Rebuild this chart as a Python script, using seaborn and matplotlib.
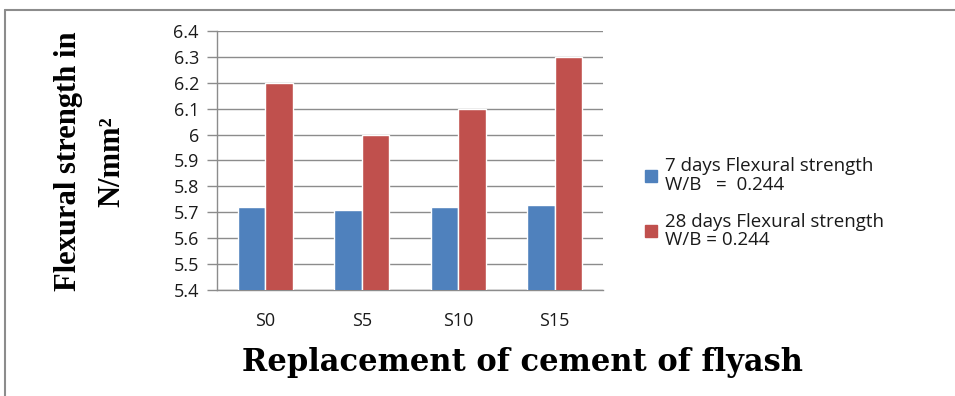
import matplotlib
matplotlib.use("Agg")
import matplotlib.pyplot as plt
from matplotlib.lines import Line2D
import seaborn as sns
import pandas as pd

# Flexural strength (N/mm^2) for each fly ash replacement level
mixes = ["S0", "S5", "S10", "S15"]
strength_7d = [5.72, 5.71, 5.72, 5.73]
strength_28d = [6.20, 6.00, 6.10, 6.30]
series_names = ["7 days Flexural strength\nW/B   =  0.244",
                "28 days Flexural strength\nW/B = 0.244"]
y_ticks = [5.4, 5.5, 5.6, 5.7, 5.8, 5.9, 6.0, 6.1, 6.2, 6.3, 6.4]

df = pd.DataFrame({
    "mix": mixes * 2,
    "strength": strength_7d + strength_28d,
    "series": [series_names[0]] * len(mixes) + [series_names[1]] * len(mixes),
})

sns.set_theme(style="white")
plt.rcParams["font.family"] = ["Open Sans", "DejaVu Sans"]

fig = plt.figure(figsize=(9.55, 3.96), dpi=100)
ax = fig.add_axes([0.2272, 0.2677, 0.6314 - 0.2272, 0.9217 - 0.2677])

palette = ["#4F81BD", "#C0504D"]
sns.barplot(data=df, x="mix", y="strength", hue="series", order=mixes,
            hue_order=series_names, palette=palette, width=0.57,
            saturation=1, ax=ax, legend=False, zorder=3)

# value axis starts at 5.4, so bars are drawn from the axis floor
ax.set_ylim(5.4, 6.4)
ax.set_xlim(-0.5, len(mixes) - 0.5)
ax.set_yticks(y_ticks)
ax.set_yticklabels([f"{v:g}" for v in y_ticks])

ax.yaxis.grid(True, color="#8c8c8c", linewidth=1.0, zorder=0)
ax.set_axisbelow(True)
for side in ["top", "right"]:
    ax.spines[side].set_visible(False)
for side in ["left", "bottom"]:
    ax.spines[side].set_color("#8c8c8c")
    ax.spines[side].set_linewidth(1.0)
ax.tick_params(axis="y", which="major", left=True, length=7, width=1.0,
               color="#8c8c8c", pad=6, labelsize=13, labelcolor="#1a1a1a")
ax.tick_params(axis="x", bottom=False, pad=10, labelsize=13,
               labelcolor="#1a1a1a")
ax.set_xlabel("")
ax.set_ylabel("")

# axis titles
fig.text(0.094, 0.593, "Flexural strength in\nN/mm\u00b2", rotation=90,
         ha="center", va="center", family="Liberation Serif",
         fontweight="bold", fontsize=22, linespacing=1.65, color="black")
fig.text(0.547, 0.085, "Replacement of cement of flyash", ha="center",
         va="center", family="DejaVu Serif", fontweight="bold", fontsize=22,
         color="black")

# legend
handles = [Line2D([0], [0], marker="s", linestyle="none", markersize=8,
                  markerfacecolor=c, markeredgecolor=c) for c in palette]
leg = fig.legend(handles, series_names, loc="center left",
                 bbox_to_anchor=(0.665, 0.487), frameon=False, fontsize=13.5,
                 handletextpad=0.3, labelspacing=1.0, handlelength=0.9,
                 borderaxespad=0)
for t in leg.get_texts():
    t.set_linespacing(1.05)
    t.set_color("#1a1a1a")

# frame edges of the chart area
fig.add_artist(Line2D([0.005, 1.0], [0.975, 0.975], transform=fig.transFigure,
                      color="#8c8c8c", linewidth=1.5))
fig.add_artist(Line2D([0.005, 0.005], [0.0, 0.975], transform=fig.transFigure,
                      color="#8c8c8c", linewidth=1.5))

fig.savefig("out.png", dpi=100)
